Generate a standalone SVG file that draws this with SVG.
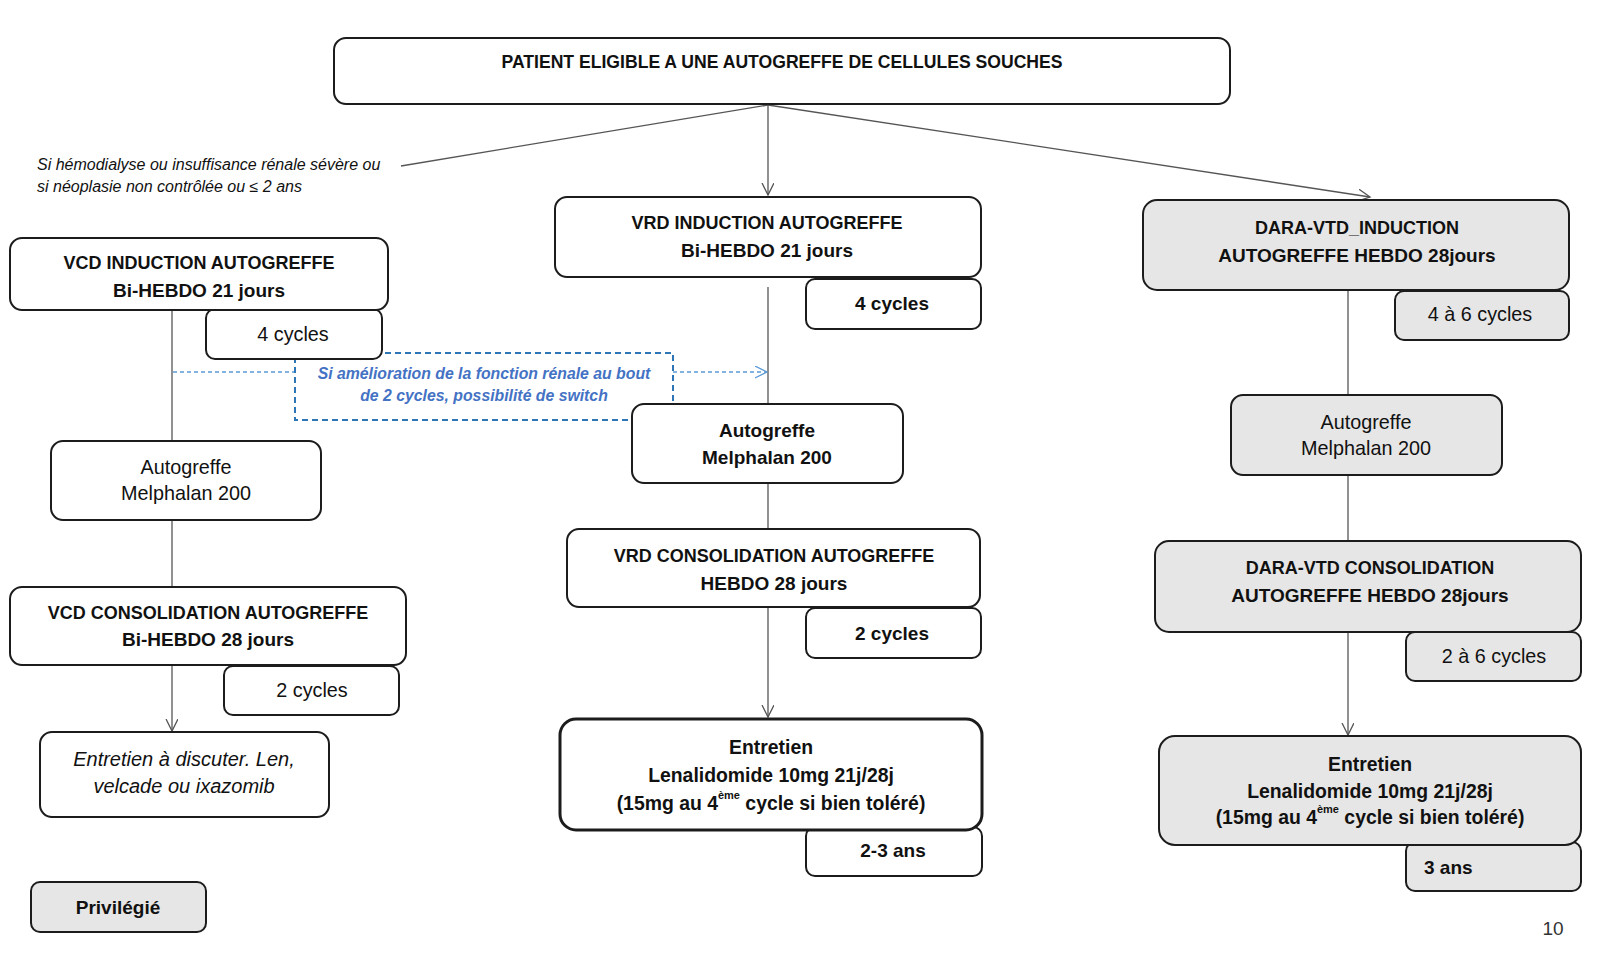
<svg xmlns="http://www.w3.org/2000/svg" width="1613" height="956" viewBox="0 0 1613 956">
<style>
text{font-family:"Liberation Sans",Arial,sans-serif;fill:#111;text-anchor:middle;dominant-baseline:central}
.box{fill:#fff;stroke:#1c1c1c;stroke-width:2}
.grey{fill:#e7e6e6}
.thick{stroke-width:3}
.b{font-weight:bold;font-size:18px}
.bm{font-weight:bold;font-size:19px}
.bl{font-weight:bold;font-size:19.4px}
.n{font-size:19.8px}
.i{font-style:italic;font-size:20px}
.note{font-style:italic;font-size:16px;text-anchor:start}
.blue{font-style:italic;font-weight:bold;font-size:15.8px;fill:#4472c4}
.con{fill:none;stroke:#555;stroke-width:1.3}
.dash{fill:none;stroke:#5b9bd5;stroke-width:1.3;stroke-dasharray:4 3}
.sup{font-size:11px}
</style>
<defs>
<marker id="arr" markerUnits="userSpaceOnUse" markerWidth="14" markerHeight="14" refX="12" refY="6" orient="auto">
<path d="M0,0 L12,6 L0,12" fill="none" stroke="#555" stroke-width="1.3"/>
</marker>
<marker id="arrb" markerUnits="userSpaceOnUse" markerWidth="14" markerHeight="14" refX="12" refY="6" orient="auto">
<path d="M0,0 L12,6 L0,12" fill="none" stroke="#5b9bd5" stroke-width="1.3"/>
</marker>
</defs>

<g id="connectors">
<line class="con" x1="768" y1="105" x2="401" y2="166"/>
<line class="con" x1="768" y1="105" x2="768" y2="195" marker-end="url(#arr)"/>
<line class="con" x1="768" y1="105" x2="1370" y2="197" marker-end="url(#arr)"/>
<line class="con" x1="172" y1="310" x2="172" y2="441"/>
<line class="con" x1="172" y1="520" x2="172" y2="588"/>
<line class="con" x1="172" y1="665" x2="172" y2="731" marker-end="url(#arr)"/>
<line class="con" x1="768" y1="287" x2="768" y2="404"/>
<line class="con" x1="768" y1="483" x2="768" y2="529"/>
<line class="con" x1="768" y1="607" x2="768" y2="717" marker-end="url(#arr)"/>
<line class="con" x1="1348" y1="290" x2="1348" y2="395"/>
<line class="con" x1="1348" y1="475" x2="1348" y2="541"/>
<line class="con" x1="1348" y1="632" x2="1348" y2="735" marker-end="url(#arr)"/>
<line class="dash" x1="173" y1="372" x2="295" y2="372"/>
<line class="dash" x1="673" y1="372" x2="767" y2="372" marker-end="url(#arrb)"/>
</g>

<g id="condition-note">
<text class="note" x="37" y="164">Si hémodialyse ou insuffisance rénale sévère ou</text>
<text class="note" x="37" y="186">si néoplasie non contrôlée ou ≤ 2 ans</text>
</g>

<g id="switch-note">
<rect x="295" y="353" width="378" height="67" fill="none" stroke="#2e75b6" stroke-width="2" stroke-dasharray="6 4"/>
<text class="blue" x="484" y="373">Si amélioration de la fonction rénale au bout</text>
<text class="blue" x="484" y="395">de 2 cycles, possibilité de switch</text>
</g>

<g id="top">
<rect class="box" x="334" y="38" width="896" height="66" rx="12"/>
<text class="b" x="782" y="62" style="font-size:17.6px">PATIENT ELIGIBLE A UNE AUTOGREFFE DE CELLULES SOUCHES</text>
</g>

<g id="vcd-4cycles">
<rect class="box" x="206" y="309" width="176" height="50" rx="9"/>
<text class="n" x="293" y="334">4 cycles</text>
</g>
<g id="vcd-induction">
<rect class="box" x="10" y="238" width="378" height="72" rx="12"/>
<text class="b" x="199" y="263">VCD INDUCTION AUTOGREFFE</text>
<text class="bm" x="199" y="290">Bi-HEBDO 21 jours</text>
</g>
<g id="vcd-autogreffe">
<rect class="box" x="51" y="441" width="270" height="79" rx="12"/>
<text class="n" x="186" y="467">Autogreffe</text>
<text class="n" x="186" y="493">Melphalan 200</text>
</g>
<g id="vcd-2cycles">
<rect class="box" x="224" y="666" width="175" height="49" rx="9"/>
<text class="n" x="312" y="690">2 cycles</text>
</g>
<g id="vcd-consolidation">
<rect class="box" x="10" y="587" width="396" height="78" rx="12"/>
<text class="b" x="208" y="613">VCD CONSOLIDATION AUTOGREFFE</text>
<text class="bm" x="208" y="639">Bi-HEBDO 28 jours</text>
</g>
<g id="vcd-entretien">
<rect class="box" x="40" y="732" width="289" height="85" rx="12"/>
<text class="i" x="184" y="759">Entretien à discuter. Len,</text>
<text class="i" x="184" y="786">velcade ou ixazomib</text>
</g>
<g id="legend">
<rect class="box grey" x="31" y="882" width="175" height="50" rx="9"/>
<text class="bm" x="118" y="907">Privilégié</text>
</g>

<g id="vrd-4cycles">
<rect class="box" x="806" y="279" width="175" height="50" rx="9" stroke-width="2.5"/>
<text class="bm" x="892" y="303">4 cycles</text>
</g>
<g id="vrd-induction">
<rect class="box" x="555" y="197" width="426" height="80" rx="12"/>
<text class="b" x="767" y="223">VRD INDUCTION AUTOGREFFE</text>
<text class="bm" x="767" y="250">Bi-HEBDO 21 jours</text>
</g>
<g id="vrd-autogreffe">
<rect class="box" x="632" y="404" width="271" height="79" rx="12"/>
<text class="bm" x="767" y="430">Autogreffe</text>
<text class="bm" x="767" y="457">Melphalan 200</text>
</g>
<g id="vrd-2cycles">
<rect class="box" x="806" y="608" width="175" height="50" rx="9" stroke-width="2.5"/>
<text class="bm" x="892" y="633">2 cycles</text>
</g>
<g id="vrd-consolidation">
<rect class="box" x="567" y="529" width="413" height="78" rx="12"/>
<text class="b" x="774" y="556">VRD CONSOLIDATION AUTOGREFFE</text>
<text class="bm" x="774" y="583">HEBDO 28 jours</text>
</g>
<g id="vrd-duree">
<rect class="box" x="806" y="827" width="176" height="49" rx="9"/>
<text class="bm" x="893" y="850">2-3 ans</text>
</g>
<g id="vrd-entretien">
<rect class="box thick" x="560" y="719" width="422" height="111" rx="16"/>
<text class="bl" x="771" y="747">Entretien</text>
<text class="bl" x="771" y="775">Lenalidomide 10mg 21j/28j</text>
<text class="bl" x="771" y="803">(15mg au 4<tspan class="sup" dy="-8">ème</tspan><tspan dy="8"> cycle si bien toléré)</tspan></text>
</g>

<g id="dara-4a6">
<rect class="box grey" x="1395" y="291" width="174" height="49" rx="9"/>
<text class="n" x="1480" y="314">4 à 6 cycles</text>
</g>
<g id="dara-induction">
<rect class="box grey" x="1143" y="200" width="426" height="90" rx="14"/>
<text class="b" x="1357" y="228">DARA-VTD_INDUCTION</text>
<text class="bm" x="1357" y="255">AUTOGREFFE HEBDO 28jours</text>
</g>
<g id="dara-autogreffe">
<rect class="box grey" x="1231" y="395" width="271" height="80" rx="12"/>
<text class="n" x="1366" y="422">Autogreffe</text>
<text class="n" x="1366" y="448">Melphalan 200</text>
</g>
<g id="dara-2a6">
<rect class="box grey" x="1406" y="632" width="175" height="49" rx="9"/>
<text class="n" x="1494" y="656">2 à 6 cycles</text>
</g>
<g id="dara-consolidation">
<rect class="box grey" x="1155" y="541" width="426" height="91" rx="14"/>
<text class="b" x="1370" y="568">DARA-VTD CONSOLIDATION</text>
<text class="bm" x="1370" y="595">AUTOGREFFE HEBDO 28jours</text>
</g>
<g id="dara-duree">
<rect class="box grey" x="1406" y="842" width="175" height="49" rx="9"/>
<text class="bm" x="1424" y="867" style="text-anchor:start">3 ans</text>
</g>
<g id="dara-entretien">
<rect class="box grey" x="1159" y="736" width="422" height="109" rx="16"/>
<text class="bl" x="1370" y="764">Entretien</text>
<text class="bl" x="1370" y="791">Lenalidomide 10mg 21j/28j</text>
<text class="bl" x="1370" y="817">(15mg au 4<tspan class="sup" dy="-8">ème</tspan><tspan dy="8"> cycle si bien toléré)</tspan></text>
</g>

<g id="page-number">
<text x="1553" y="928" style="font-size:19px;fill:#333">10</text>
</g>
</svg>
